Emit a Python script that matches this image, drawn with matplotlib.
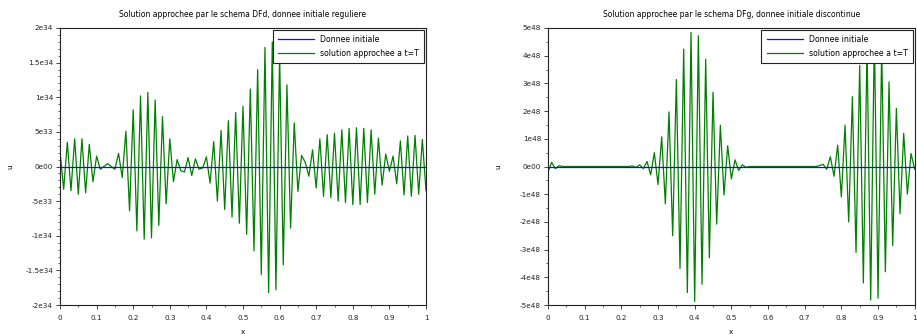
import numpy as np
import matplotlib
matplotlib.use("Agg")
import matplotlib.pyplot as plt
from matplotlib.ticker import MultipleLocator

# grid x = 0, 0.01, ..., 1
x = np.linspace(0, 1, 101)

# left panel: DFd scheme, smooth initial data (values in units of 1e34)
u_left = [
    0.22, -0.33, 0.35, -0.35, 0.40, -0.40, 0.40, -0.38, 0.32, -0.22,
    0.15, -0.04, 0.00, 0.04, 0.00, -0.04, 0.19, -0.16, 0.51, -0.64,
    0.82, -0.93, 1.02, -1.05, 1.07, -1.03, 0.96, -0.85, 0.72, -0.54,
    0.40, -0.22, 0.10, -0.06, -0.08, 0.13, -0.13, 0.11, -0.04, -0.02,
    0.14, -0.24, 0.36, -0.50, 0.52, -0.62, 0.66, -0.73, 0.78, -0.82,
    0.87, -0.98, 1.12, -1.22, 1.40, -1.56, 1.72, -1.82, 1.80, -1.78,
    1.62, -1.42, 1.18, -0.89, 0.63, -0.36, 0.16, 0.06, -0.14, 0.24,
    -0.31, 0.40, -0.43, 0.46, -0.45, 0.48, -0.50, 0.53, -0.52, 0.55,
    -0.55, 0.56, -0.55, 0.55, -0.52, 0.53, -0.40, 0.41, -0.27, 0.18,
    -0.07, 0.15, -0.25, 0.37, -0.41, 0.44, -0.43, 0.45, -0.40, 0.39,
    -0.35,
]

# right panel: DFg scheme, discontinuous initial data (values in units of 1e48)
u_right = [
    -0.20, 0.15, -0.08, 0.03, 0.0, 0.0, 0.0, 0.0, 0.0, 0.0,
    0.0, 0.0, 0.0, 0.0, 0.0, 0.0, 0.0, 0.0, 0.0, 0.0,
    0.0, 0.0, 0.0, 0.02, -0.03, 0.06, -0.08, 0.18, -0.30, 0.50,
    -0.65, 1.07, -1.35, 1.97, -2.50, 3.14, -3.68, 4.24, -4.55, 4.84,
    -4.87, 4.72, -4.25, 3.87, -3.30, 2.68, -2.08, 1.49, -1.03, 0.75,
    -0.45, 0.24, -0.14, 0.06, -0.03, 0.0, 0.0, 0.0, 0.0, 0.0,
    0.0, 0.0, 0.0, 0.0, 0.0, 0.0, 0.0, 0.0, 0.0, 0.0,
    0.0, 0.0, 0.0, 0.0, 0.03, 0.08, -0.10, 0.35, -0.35, 0.77,
    -1.10, 1.49, -2.00, 2.52, -3.10, 3.65, -4.20, 4.40, -4.82, 4.80,
    -4.75, 4.30, -3.80, 3.05, -2.85, 2.10, -1.70, 1.20, -1.00, 0.47,
    -0.10,
]

# initial data is of order 1, i.e. flat at these scales
u0_left = [0.0] * len(x)
u0_right = [0.0] * len(x)

xticks = [0, 0.1, 0.2, 0.3, 0.4, 0.5, 0.6, 0.7, 0.8, 0.9, 1]
xticklabels = ["0", "0.1", "0.2", "0.3", "0.4", "0.5", "0.6", "0.7", "0.8", "0.9", "1"]

yticks_left = [-2e34, -1.5e34, -1e34, -5e33, 0, 5e33, 1e34, 1.5e34, 2e34]
yticklabels_left = ["-2e34", "-1.5e34", "-1e34", "-5e33", "0e00", "5e33", "1e34", "1.5e34", "2e34"]

yticks_right = [-5e48, -4e48, -3e48, -2e48, -1e48, 0, 1e48, 2e48, 3e48, 4e48, 5e48]
yticklabels_right = ["-5e48", "-4e48", "-3e48", "-2e48", "-1e48", "0e00",
                     "1e48", "2e48", "3e48", "4e48", "5e48"]

title_left = "Solution approchee par le schema DFd, donnee initiale reguliere"
title_right = "Solution approchee par le schema DFg, donnee initiale discontinue"

green = "#008000"
blue = "#1010e0"
fs = 5.2

fig = plt.figure(figsize=(9.17, 3.36), dpi=100)
axL = fig.add_axes([60 / 917, 31 / 336, 366 / 917, 277 / 336])
axR = fig.add_axes([548 / 917, 31 / 336, 366.7 / 917, 277 / 336])

panels = [
    (axL, np.array(u_left) * 1e34, u0_left, title_left, (-2e34, 2e34),
     yticks_left, yticklabels_left, 0.1e34),
    (axR, np.array(u_right) * 1e48, u0_right, title_right, (-5e48, 5e48),
     yticks_right, yticklabels_right, 0.5e48),
]

for ax, u, u0, title, ylim, yt, ytl, yminor in panels:
    l_sol, = ax.plot(x, u, color=green, lw=0.9, zorder=2)
    l_ini, = ax.plot(x, u0, color=blue, lw=0.9, zorder=3)
    ax.set_xlim(0, 1)
    ax.set_ylim(*ylim)
    ax.set_xticks(xticks)
    ax.set_xticklabels(xticklabels)
    ax.set_yticks(yt)
    ax.set_yticklabels(ytl)
    ax.xaxis.set_minor_locator(MultipleLocator(0.05))
    ax.yaxis.set_minor_locator(MultipleLocator(yminor))
    ax.tick_params(which="major", direction="out", length=3, width=0.6,
                   labelsize=fs, colors="#222222", pad=2)
    ax.tick_params(axis="x", which="major", pad=4)
    ax.tick_params(which="minor", direction="out", length=1.5, width=0.5,
                   colors="#222222")
    for sp in ax.spines.values():
        sp.set_linewidth(0.8)
        sp.set_color("#222222")
    ax.set_title(title, fontsize=fs + 0.3, pad=8)
    ax.set_xlabel("x", fontsize=fs)
    ax.set_ylabel("u", fontsize=fs)
    ax.xaxis.set_label_coords(0.5, -0.085)
    ax.yaxis.set_label_coords(-47 / 366, 0.5)
    leg = ax.legend([l_ini, l_sol], ["Donnee initiale", "solution approchee a t=T"],
                    loc="upper right", fontsize=fs + 0.4, fancybox=False, framealpha=1,
                    edgecolor="#222222", borderaxespad=0.2, handlelength=4.6,
                    handletextpad=0.8, borderpad=0.7, labelspacing=0.6)
    leg.get_frame().set_linewidth(0.8)

fig.savefig("out.png", dpi=100)
